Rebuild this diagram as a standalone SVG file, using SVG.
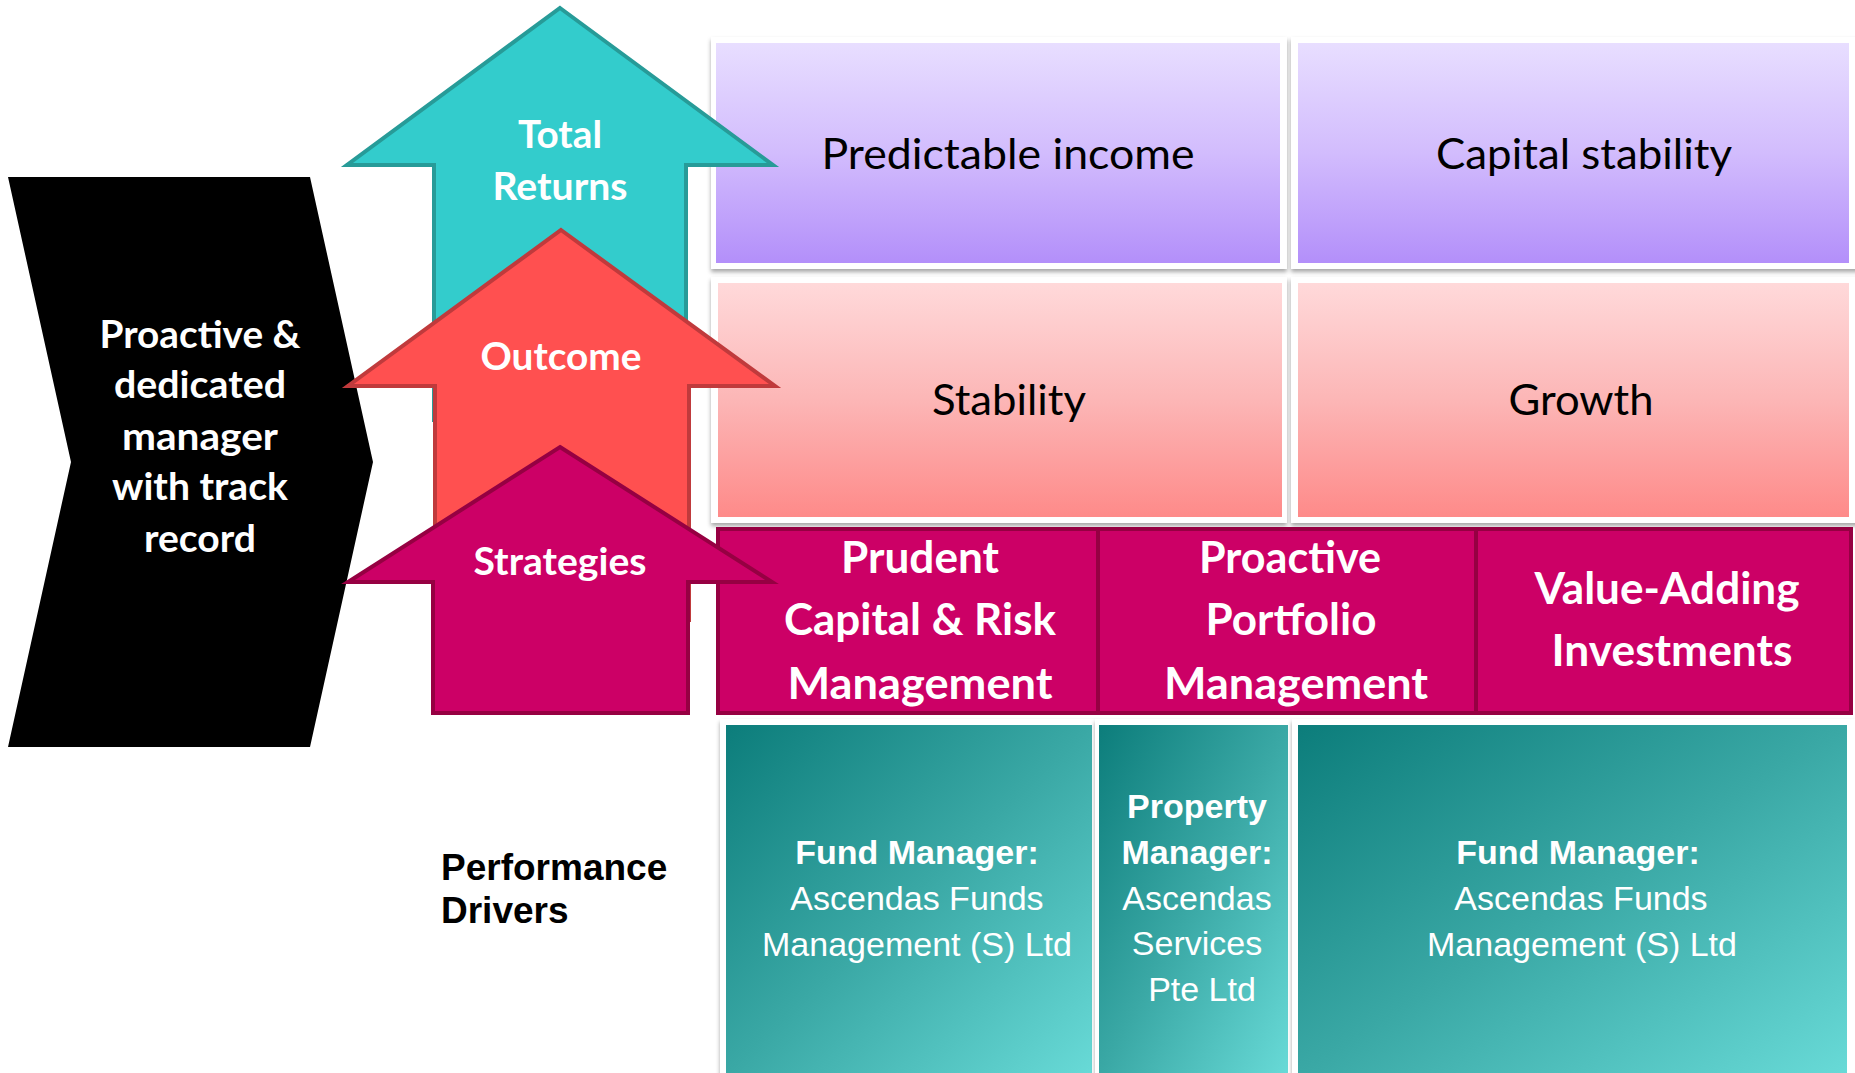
<svg xmlns="http://www.w3.org/2000/svg" width="1855" height="1073" viewBox="0 0 1855 1073">
<style>
.cal{font-family:Lato,"Open Sans","Liberation Sans",sans-serif;text-anchor:middle}
.lbl{font-size:38px;font-weight:bold;fill:#fff}
.box{font-size:43px;fill:#000}
.strat{font-size:43px;font-weight:bold;fill:#fff}
.ar{font-family:"Liberation Sans",Arial,sans-serif;font-size:34px;fill:#fff;text-anchor:middle}
.arb{font-weight:bold}
.card{fill:#fff;filter:url(#sh)}
</style>
<defs>
<filter id="sh" x="-5%" y="-5%" width="110%" height="115%">
<feDropShadow dx="0" dy="3" stdDeviation="2" flood-color="#000" flood-opacity="0.35"/>
</filter>
<linearGradient id="gPurple" x1="0" y1="0" x2="0" y2="1">
<stop offset="0" stop-color="#e8deff"/>
<stop offset="0.5" stop-color="#d2bcfd"/>
<stop offset="1" stop-color="#b38ffa"/>
</linearGradient>
<linearGradient id="gPink" x1="0" y1="0" x2="0" y2="1">
<stop offset="0" stop-color="#ffd9da"/>
<stop offset="0.5" stop-color="#fcb6b6"/>
<stop offset="1" stop-color="#fe8a89"/>
</linearGradient>
<linearGradient id="gTeal" x1="0" y1="0" x2="1" y2="1">
<stop offset="0" stop-color="#0c7d7b"/>
<stop offset="0.5" stop-color="#3aa8a5"/>
<stop offset="1" stop-color="#68dad7"/>
</linearGradient>
</defs>
<rect width="1855" height="1073" fill="#fff"/>

<g id="manager-chevron">
<polygon points="8,177 310,177 373,462 310,747 8,747 71,462" fill="#000"/>
<text class="cal lbl" x="200" y="348" textLength="201" lengthAdjust="spacingAndGlyphs">Proactive &amp;</text>
<text class="cal lbl" x="200" y="398" textLength="172" lengthAdjust="spacingAndGlyphs">dedicated</text>
<text class="cal lbl" x="200" y="450" textLength="156" lengthAdjust="spacingAndGlyphs">manager</text>
<text class="cal lbl" x="200" y="500" textLength="176" lengthAdjust="spacingAndGlyphs">with track</text>
<text class="cal lbl" x="200" y="552" textLength="112" lengthAdjust="spacingAndGlyphs">record</text>
</g>

<g id="predictable-income">
<rect class="card" x="711" y="37" width="576" height="232"/>
<rect x="716" y="43" width="564" height="220" fill="url(#gPurple)"/>
<text class="cal box" x="1008" y="169" textLength="373" lengthAdjust="spacingAndGlyphs">Predictable income</text>
</g>
<g id="capital-stability">
<rect class="card" x="1291" y="37" width="570" height="232"/>
<rect x="1298" y="43" width="551" height="220" fill="url(#gPurple)"/>
<text class="cal box" x="1584" y="169" textLength="296" lengthAdjust="spacingAndGlyphs">Capital stability</text>
</g>
<g id="stability">
<rect class="card" x="711" y="277" width="576" height="246"/>
<rect x="718" y="283" width="564" height="234" fill="url(#gPink)"/>
<text class="cal box" x="1009" y="415" textLength="154" lengthAdjust="spacingAndGlyphs">Stability</text>
</g>
<g id="growth">
<rect class="card" x="1291" y="277" width="570" height="246"/>
<rect x="1298" y="283" width="551" height="234" fill="url(#gPink)"/>
<text class="cal box" x="1581" y="415" textLength="145" lengthAdjust="spacingAndGlyphs">Growth</text>
</g>

<g id="strategy-row" stroke="#960042" stroke-width="4">
<rect x="718" y="529" width="1133" height="184" fill="#cc0066"/>
<line x1="1098" y1="529" x2="1098" y2="713"/>
<line x1="1476" y1="529" x2="1476" y2="713"/>
</g>
<g id="prudent-capital">
<text class="cal strat" x="920" y="573" textLength="158" lengthAdjust="spacingAndGlyphs">Prudent</text>
<text class="cal strat" x="920" y="635" textLength="272" lengthAdjust="spacingAndGlyphs">Capital &amp; Risk</text>
<text class="cal strat" x="920" y="699" textLength="265" lengthAdjust="spacingAndGlyphs">Management</text>
</g>
<g id="proactive-portfolio">
<text class="cal strat" x="1290" y="573" textLength="182" lengthAdjust="spacingAndGlyphs">Proactive</text>
<text class="cal strat" x="1291" y="635" textLength="171" lengthAdjust="spacingAndGlyphs">Portfolio</text>
<text class="cal strat" x="1296" y="699" textLength="264" lengthAdjust="spacingAndGlyphs">Management</text>
</g>
<g id="value-adding">
<text class="cal strat" x="1667" y="604" textLength="265" lengthAdjust="spacingAndGlyphs">Value-Adding</text>
<text class="cal strat" x="1672" y="666" textLength="241" lengthAdjust="spacingAndGlyphs">Investments</text>
</g>

<g id="fund-manager-1">
<rect class="card" x="720" y="719" width="379" height="360"/>
<rect x="726" y="725" width="366" height="350" fill="url(#gTeal)"/>
<text class="ar arb" x="917" y="864">Fund Manager:</text>
<text class="ar" x="917" y="910">Ascendas Funds</text>
<text class="ar" x="917" y="956">Management (S) Ltd</text>
</g>
<g id="property-manager">
<rect class="card" x="1095" y="719" width="197" height="360"/>
<rect x="1099" y="725" width="189" height="350" fill="url(#gTeal)"/>
<text class="ar arb" x="1197" y="818">Property</text>
<text class="ar arb" x="1197" y="864">Manager:</text>
<text class="ar" x="1197" y="910">Ascendas</text>
<text class="ar" x="1197" y="955">Services</text>
<text class="ar" x="1202" y="1001">Pte Ltd</text>
</g>
<g id="fund-manager-2">
<rect class="card" x="1292" y="719" width="563" height="360"/>
<rect x="1298" y="725" width="549" height="350" fill="url(#gTeal)"/>
<text class="ar arb" x="1578" y="864">Fund Manager:</text>
<text class="ar" x="1581" y="910">Ascendas Funds</text>
<text class="ar" x="1582" y="956">Management (S) Ltd</text>
</g>

<g id="total-returns-arrow">
<polygon points="560,8 773,165 686,165 686,420 434,420 434,165 347,165" fill="#33cccc" stroke="#279b98" stroke-width="4"/>
<text class="cal lbl" x="560" y="148" textLength="84" lengthAdjust="spacingAndGlyphs">Total</text>
<text class="cal lbl" x="560" y="200" textLength="135" lengthAdjust="spacingAndGlyphs">Returns</text>
</g>
<g id="outcome-arrow">
<polygon points="561,230 775,386 689,386 689,620 435,620 435,386 348,386" fill="#ff5050" stroke="#c03a3c" stroke-width="4"/>
<text class="cal lbl" x="561" y="370" textLength="161" lengthAdjust="spacingAndGlyphs">Outcome</text>
</g>
<g id="strategies-arrow">
<polygon points="560,447 772,582 688,582 688,713 433,713 433,582 348,582" fill="#cc0066" stroke="#960042" stroke-width="4"/>
<text class="cal lbl" x="560" y="575" textLength="173" lengthAdjust="spacingAndGlyphs">Strategies</text>
</g>

<g id="performance-drivers">
<text font-family="Liberation Sans, Arial, sans-serif" font-weight="bold" font-size="37" fill="#000" x="441" y="880">Performance</text>
<text font-family="Liberation Sans, Arial, sans-serif" font-weight="bold" font-size="37" fill="#000" x="441" y="923">Drivers</text>
</g>
<g id="connectors"></g>
</svg>
